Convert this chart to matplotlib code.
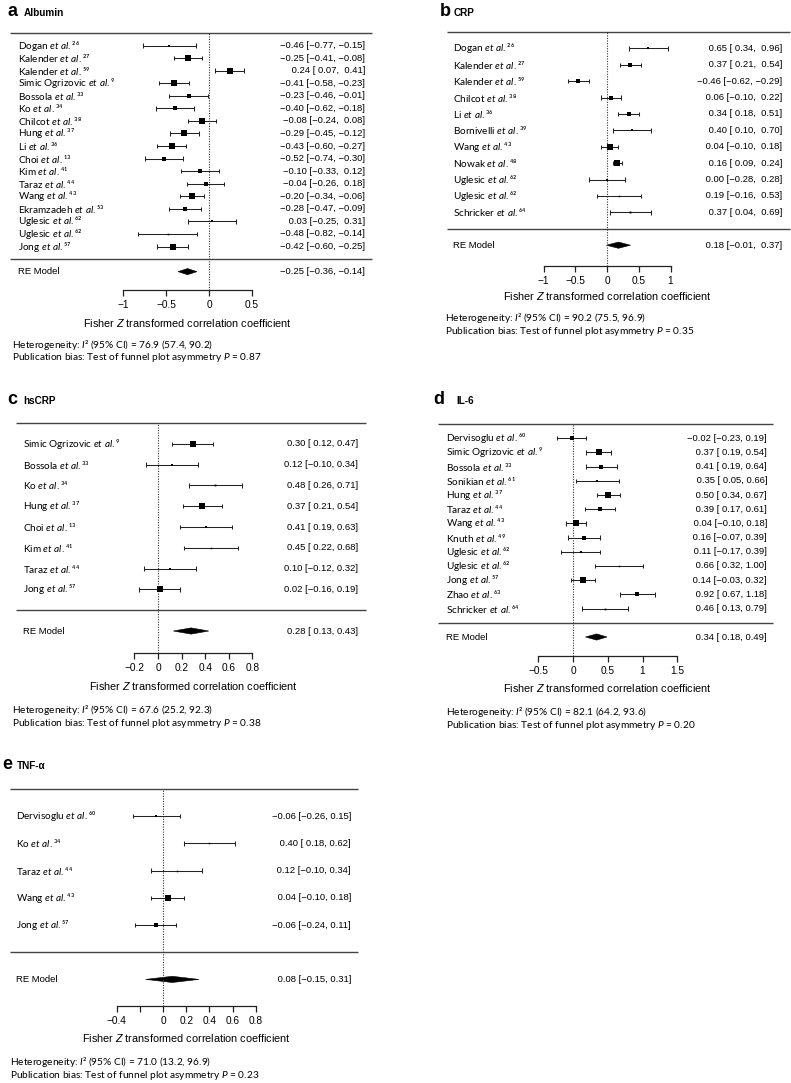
import numpy as np
import matplotlib
matplotlib.use("Agg")
import matplotlib.pyplot as plt

plt.rcParams['font.family'] = ['Liberation Sans', 'DejaVu Sans']
plt.rcParams['mathtext.fontset'] = 'custom'
plt.rcParams['mathtext.rm'] = 'Lato'
plt.rcParams['mathtext.it'] = 'Lato:italic'
plt.rcParams['mathtext.bf'] = 'Lato:bold'
plt.rcParams['mathtext.sf'] = 'Liberation Sans:italic'

W, H = 791, 1083

# ---------------- data ----------------
# a  Albumin
alb_study = ['Dogan', 'Kalender', 'Kalender', 'Simic Ogrizovic', 'Bossola', 'Ko', 'Chilcot', 'Hung',
             'Li', 'Choi', 'Kim', 'Taraz', 'Wang', 'Ekramzadeh', 'Uglesic', 'Uglesic', 'Jong']
alb_ref = ['26', '27', '59', '9', '33', '34', '38', '37', '36', '13', '41', '44', '43', '53', '62', '62', '57']
alb_est = [-0.46, -0.25, 0.24, -0.41, -0.23, -0.40, -0.08, -0.29, -0.43, -0.52, -0.10, -0.04, -0.20, -0.28, 0.03, -0.48, -0.42]
alb_lo = [-0.77, -0.41, 0.07, -0.58, -0.46, -0.62, -0.24, -0.45, -0.60, -0.74, -0.33, -0.26, -0.34, -0.47, -0.25, -0.82, -0.60]
alb_hi = [-0.15, -0.08, 0.41, -0.23, -0.01, -0.18, 0.08, -0.12, -0.27, -0.30, 0.12, 0.18, -0.06, -0.09, 0.31, -0.14, -0.25]
alb_re = [-0.25, -0.36, -0.14]
alb_i2 = [76.9, 57.4, 90.2]
alb_p = 0.87

# b  CRP
crp_study = ['Dogan', 'Kalender', 'Kalender', 'Chilcot', 'Li', 'Bornivelli', 'Wang', 'Nowak',
             'Uglesic', 'Uglesic', 'Schricker']
crp_ref = ['26', '27', '59', '38', '36', '39', '43', '48', '62', '62', '64']
crp_est = [0.65, 0.37, -0.46, 0.06, 0.34, 0.40, 0.04, 0.16, 0.00, 0.19, 0.37]
crp_lo = [0.34, 0.21, -0.62, -0.10, 0.18, 0.10, -0.10, 0.09, -0.28, -0.16, 0.04]
crp_hi = [0.96, 0.54, -0.29, 0.22, 0.51, 0.70, 0.18, 0.24, 0.28, 0.53, 0.69]
crp_re = [0.18, -0.01, 0.37]
crp_i2 = [90.2, 75.5, 96.9]
crp_p = 0.35

# c  hsCRP
hs_study = ['Simic Ogrizovic', 'Bossola', 'Ko', 'Hung', 'Choi', 'Kim', 'Taraz', 'Jong']
hs_ref = ['9', '33', '34', '37', '13', '41', '44', '57']
hs_est = [0.30, 0.12, 0.48, 0.37, 0.41, 0.45, 0.10, 0.02]
hs_lo = [0.12, -0.10, 0.26, 0.21, 0.19, 0.22, -0.12, -0.16]
hs_hi = [0.47, 0.34, 0.71, 0.54, 0.63, 0.68, 0.32, 0.19]
hs_re = [0.28, 0.13, 0.43]
hs_i2 = [67.6, 25.2, 92.3]
hs_p = 0.38

# d  IL-6
il6_study = ['Dervisoglu', 'Simic Ogrizovic', 'Bossola', 'Sonikian', 'Hung', 'Taraz', 'Wang', 'Knuth',
             'Uglesic', 'Uglesic', 'Jong', 'Zhao', 'Schricker']
il6_ref = ['60', '9', '33', '61', '37', '44', '43', '49', '62', '62', '57', '63', '64']
il6_est = [-0.02, 0.37, 0.41, 0.35, 0.50, 0.39, 0.04, 0.16, 0.11, 0.66, 0.14, 0.92, 0.46]
il6_lo = [-0.23, 0.19, 0.19, 0.05, 0.34, 0.17, -0.10, -0.07, -0.17, 0.32, -0.03, 0.67, 0.13]
il6_hi = [0.19, 0.54, 0.64, 0.66, 0.67, 0.61, 0.18, 0.39, 0.39, 1.00, 0.32, 1.18, 0.79]
il6_re = [0.34, 0.18, 0.49]
il6_i2 = [82.1, 64.2, 93.6]
il6_p = 0.20

# e  TNF-alpha
tnf_study = ['Dervisoglu', 'Ko', 'Taraz', 'Wang', 'Jong']
tnf_ref = ['60', '34', '44', '43', '57']
tnf_est = [-0.06, 0.40, 0.12, 0.04, -0.06]
tnf_lo = [-0.26, 0.18, -0.10, -0.10, -0.24]
tnf_hi = [0.15, 0.62, 0.34, 0.18, 0.11]
tnf_re = [0.08, -0.15, 0.31]
tnf_i2 = [71.0, 13.2, 96.9]
tnf_p = 0.23

panels = [
    dict(letter='a', title='Albumin', study=alb_study, ref=alb_ref, est=alb_est, lo=alb_lo, hi=alb_hi,
         re=alb_re, i2=alb_i2, p=alb_p, ticks=[-1, -0.5, 0, 0.5], ticklabels=['−1', '−0.5', '0', '0.5'],
         letter_xy=(7, 16), title_x=24, L=10, R=372, top=33, dy=12.56, axis_y=290, x0=209, s=86,
         lab_x=18, val_x=365, xl_y=323, het_x=12, het_y=345),
    dict(letter='b', title='CRP', study=crp_study, ref=crp_ref, est=crp_est, lo=crp_lo, hi=crp_hi,
         re=crp_re, i2=crp_i2, p=crp_p, ticks=[-1, -0.5, 0, 0.5, 1], ticklabels=['−1', '−0.5', '0', '0.5', '1'],
         letter_xy=(440, 16), title_x=454, L=447, R=790, top=32, dy=16.4, axis_y=266, x0=607, s=63.5,
         lab_x=453, val_x=782, xl_y=296, het_x=445, het_y=318),
    dict(letter='c', title='hsCRP', study=hs_study, ref=hs_ref, est=hs_est, lo=hs_lo, hi=hs_hi,
         re=hs_re, i2=hs_i2, p=hs_p, ticks=[-0.2, 0, 0.2, 0.4, 0.6, 0.8],
         ticklabels=['−0.2', '0', '0.2', '0.4', '0.6', '0.8'],
         letter_xy=(7, 404), title_x=23, L=16, R=366, top=423, dy=20.8, axis_y=653, x0=158, s=118,
         lab_x=23, val_x=358, xl_y=686, het_x=12, het_y=710),
    dict(letter='d', title='IL-6', study=il6_study, ref=il6_ref, est=il6_est, lo=il6_lo, hi=il6_hi,
         re=il6_re, i2=il6_i2, p=il6_p, ticks=[-0.5, 0, 0.5, 1, 1.5], ticklabels=['−0.5', '0', '0.5', '1', '1.5'],
         letter_xy=(433, 404), title_x=456, L=438, R=773, top=424, dy=14.2, axis_y=656, x0=573, s=69.5,
         lab_x=446, val_x=767, xl_y=688, het_x=446, het_y=712),
    dict(letter='e', title='TNF-α', study=tnf_study, ref=tnf_ref, est=tnf_est, lo=tnf_lo, hi=tnf_hi,
         re=tnf_re, i2=tnf_i2, p=tnf_p, ticks=[-0.4, -0.2, 0, 0.2, 0.4, 0.6, 0.8],
         ticklabels=['−0.4', '', '0', '0.2', '0.4', '0.6', '0.8'],
         letter_xy=(2, 769), title_x=17, L=10, R=358, top=789, dy=27.2, axis_y=1006, x0=163, s=116,
         lab_x=16, val_x=351, xl_y=1038, het_x=10, het_y=1062),
]

SUP = str.maketrans('0123456789', '⁰¹²³⁴⁵⁶⁷⁸⁹')


def num(v, pad):
    t = f"{abs(v):.2f}"
    if v < 0:
        return '−' + t
    return (' ' + t) if pad else t


def re_sizes(lo, hi, i2, smin=1.5, smax=6.0):
    # square size from random-effects weights (as in a metafor forest plot)
    se = (np.array(hi) - np.array(lo)) / 3.92
    v = se ** 2
    w = 1 / v
    k = len(v)
    vtyp = (k - 1) * w.sum() / (w.sum() ** 2 - (w ** 2).sum())
    tau2 = i2 / (100 - i2) * vtyp
    wr = 1 / (v + tau2)
    norm = (wr - wr.min()) / (wr.max() - wr.min())
    return smin + norm * (smax - smin)


def ftext(x, y, s, **kw):
    fig.text(x / W, 1 - y / H, s, **kw)


fig = plt.figure(figsize=(W / 100, H / 100), dpi=100)
txt_kw = dict(fontsize=6.8, family=['Liberation Sans', 'DejaVu Sans'])
lab_kw = dict(fontsize=7.2, family=['Lato', 'DejaVu Sans'])
het_kw = dict(fontsize=7.3, family=['Lato', 'DejaVu Sans'])

for P in panels:
    k = len(P['est'])
    dy = P['dy']
    rows = np.arange(k, 0, -1)
    axis_row = (k + 1) - (P['axis_y'] - P['top']) / dy
    ax = fig.add_axes([P['L'] / W, 1 - P['axis_y'] / H, (P['R'] - P['L']) / W, (P['axis_y'] - P['top']) / H])
    ax.set_xlim((P['L'] - P['x0']) / P['s'], (P['R'] - P['x0']) / P['s'])
    ax.set_ylim(axis_row, k + 1)
    for sp in ['top', 'left', 'right']:
        ax.spines[sp].set_visible(False)
    ax.spines['bottom'].set_bounds(P['ticks'][0], P['ticks'][-1])
    ax.spines['bottom'].set_linewidth(0.9)
    ax.spines['bottom'].set_color('#222222')
    ax.set_yticks([])
    ax.set_xticks(P['ticks'])
    ax.set_xticklabels(P['ticklabels'])
    ax.tick_params(axis='x', direction='out', length=4, width=0.9, color='#222222', pad=3.2,
                   labelsize=7.3)
    ax.patch.set_alpha(0)

    # rules and reference line
    x_a, x_b = ax.get_xlim()
    ax.hlines([k + 1, 0], x_a, x_b, color='#444444', lw=1.0, clip_on=False)
    ax.vlines(0, axis_row, k + 1, color='#333333', lw=0.8, linestyles=(0, (1, 1.3)))

    # study CIs and squares
    cap = 2.2 / dy
    ax.hlines(rows, P['lo'], P['hi'], color='#222222', lw=0.75)
    ax.vlines(P['lo'], rows - cap, rows + cap, color='#222222', lw=0.75)
    ax.vlines(P['hi'], rows - cap, rows + cap, color='#222222', lw=0.75)
    sizes = re_sizes(P['lo'], P['hi'], P['i2'][0])
    for r, e, sz in zip(rows, P['est'], sizes):
        ax.plot(e, r, marker='s', ms=sz * 0.72, color='black', mec='black', mew=0)

    # summary diamond
    m, mlo, mhi = P['re']
    hh = 3.1 / dy
    ax.fill([mlo, m, mhi, m], [-1, -1 + hh, -1, -1 - hh], color='black', lw=0.4, ec='black')

    # labels and values
    xl = (P['lab_x'] - P['x0']) / P['s']
    xv = (P['val_x'] - P['x0']) / P['s']
    pad_e = min(P['est']) < 0
    pad_l = min(P['lo']) < 0
    pad_h = min(P['hi']) < 0
    for r, name, ref, e, l, h in zip(rows, P['study'], P['ref'], P['est'], P['lo'], P['hi']):
        ax.text(xl, r, name + r' $\mathit{et\ al.}$' + ref.translate(SUP), ha='left', va='center',
                clip_on=False, **lab_kw)
        ax.text(xv, r, f"{num(e, pad_e)} [{num(l, pad_l)}, {num(h, pad_h)}]", ha='right', va='center',
                clip_on=False, **txt_kw)
    ax.text(xl, -1, 'RE Model', ha='left', va='center', clip_on=False, **txt_kw)
    ax.text(xv, -1, f"{num(m, pad_e)} [{num(mlo, pad_l)}, {num(mhi, pad_h)}]", ha='right', va='center',
            clip_on=False, **txt_kw)

    # titles
    lx, ly = P['letter_xy']
    ftext(lx, ly, P['letter'], fontsize=13, fontweight='bold', va='baseline', ha='left')
    ftext(P['title_x'], ly, P['title'], fontsize=7.2, fontweight='bold', va='baseline', ha='left')

    # axis title
    xc = P['x0'] + P['s'] * (P['ticks'][0] + P['ticks'][-1]) / 2
    ftext(xc, P['xl_y'], r'Fisher $\mathsf{Z}$ transformed correlation coefficient', ha='center',
          va='center', fontsize=7.8)

    # heterogeneity notes
    i2, i2lo, i2hi = P['i2']
    ftext(P['het_x'], P['het_y'],
          rf'Heterogeneity: $\mathit{{I}}$² (95% CI) = {i2:.1f} ({i2lo:.1f}, {i2hi:.1f})',
          ha='left', va='center', **het_kw)
    ftext(P['het_x'], P['het_y'] + 13,
          rf'Publication bias: Test of funnel plot asymmetry $\mathit{{P}}$ = {P["p"]:.2f}',
          ha='left', va='center', **het_kw)

fig.savefig('out.png', dpi=100)
